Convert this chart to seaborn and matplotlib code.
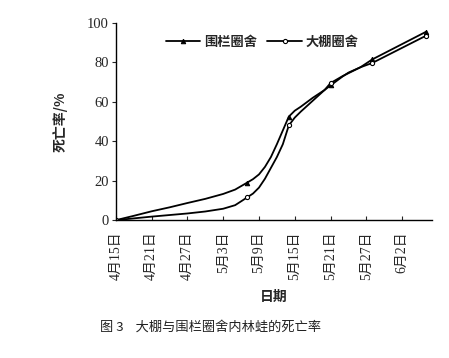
import matplotlib
matplotlib.use("Agg")
import matplotlib.pyplot as plt
import seaborn as sns
import pandas as pd

sns.set_theme(style="white")
plt.rcParams['font.family'] = ['Liberation Serif', 'Noto Sans CJK SC']

days = [0, 3, 6, 9, 12, 15, 18, 20, 22, 23, 24, 25, 26, 27, 28, 29, 30, 31, 33, 35, 36, 38, 39, 41, 43, 52]
fence = [0, 2.2, 4.5, 6.5, 8.7, 10.8, 13.3, 15.5, 19, 20.8, 23.2, 27, 32, 38.5, 45.5, 52.5, 55.5, 57.5, 62, 66, 68.3, 72.8, 74.8, 77.5, 81.5, 95.5]
greenhouse = [0, 0.9, 1.8, 2.6, 3.4, 4.4, 5.8, 7.6, 11.5, 13.5, 16.5, 21, 26.5, 32, 38.5, 48, 52, 55, 60.5, 66, 69.5, 73, 74.5, 77.5, 79.7, 93.5]
marker_days = [0, 22, 29, 36, 43, 52]
tick_days = [0, 6, 12, 18, 24, 30, 36, 42, 48]
tick_labels = ['4月15日', '4月21日', '4月27日', '5月3日', '5月9日',
               '5月15日', '5月21日', '5月27日', '6月2日']
series_names = ['围栏圈舍', '大棚圈舍']

df = pd.DataFrame({'day': days, series_names[0]: fence, series_names[1]: greenhouse})
marker_idx = [days.index(d) for d in marker_days]

fig = plt.figure(figsize=(4.49, 3.58), dpi=100)
ax = fig.add_axes([0.258, 0.385, 0.704, 0.551])

sns.lineplot(data=df, x='day', y=series_names[0], ax=ax, color='black', lw=1.3,
             marker='^', markersize=3.2, markevery=marker_idx, markerfacecolor='black',
             markeredgecolor='black', label=series_names[0])
sns.lineplot(data=df, x='day', y=series_names[1], ax=ax, color='black', lw=1.3,
             marker='o', markersize=3.0, markevery=marker_idx, markerfacecolor='white',
             markeredgecolor='black', markeredgewidth=0.8, label=series_names[1])

ax.set_xlim(0, 53)
ax.set_ylim(0, 100)
ax.set_yticks([0, 20, 40, 60, 80, 100])
ax.set_xticks(tick_days)
ax.set_xticklabels(tick_labels, rotation=90, fontsize=10)
ax.tick_params(axis='y', labelsize=10.5, direction='out', length=3, width=0.8, left=True, pad=2)
ax.tick_params(axis='x', direction='in', length=3, width=0.8, bottom=True, pad=8)
for s in ['top', 'right']:
    ax.spines[s].set_visible(False)
for s in ['left', 'bottom']:
    ax.spines[s].set_color('black')
    ax.spines[s].set_linewidth(1.0)

ax.set_xlabel('日期', fontsize=10, fontweight='bold', family=['Noto Sans CJK SC'], labelpad=7)
ax.set_ylabel('死亡率/%', fontsize=10, fontweight='bold', family=['Noto Sans CJK SC'], labelpad=14)

leg = ax.legend(loc='upper left', bbox_to_anchor=(0.12, 1.0), ncol=2, frameon=False,
                handlelength=2.6, columnspacing=0.8, handletextpad=0.3,
                prop={'family': ['Noto Sans CJK SC'], 'size': 9.5, 'weight': 'bold'})

fig.text(0.223, 0.087, '图 3    大棚与围栏圈舍内林蛙的死亡率', fontsize=9.5,
         family=['Noto Sans CJK SC'], color='#222222', va='center', ha='left')

fig.savefig('out.png', dpi=100, facecolor='white')
